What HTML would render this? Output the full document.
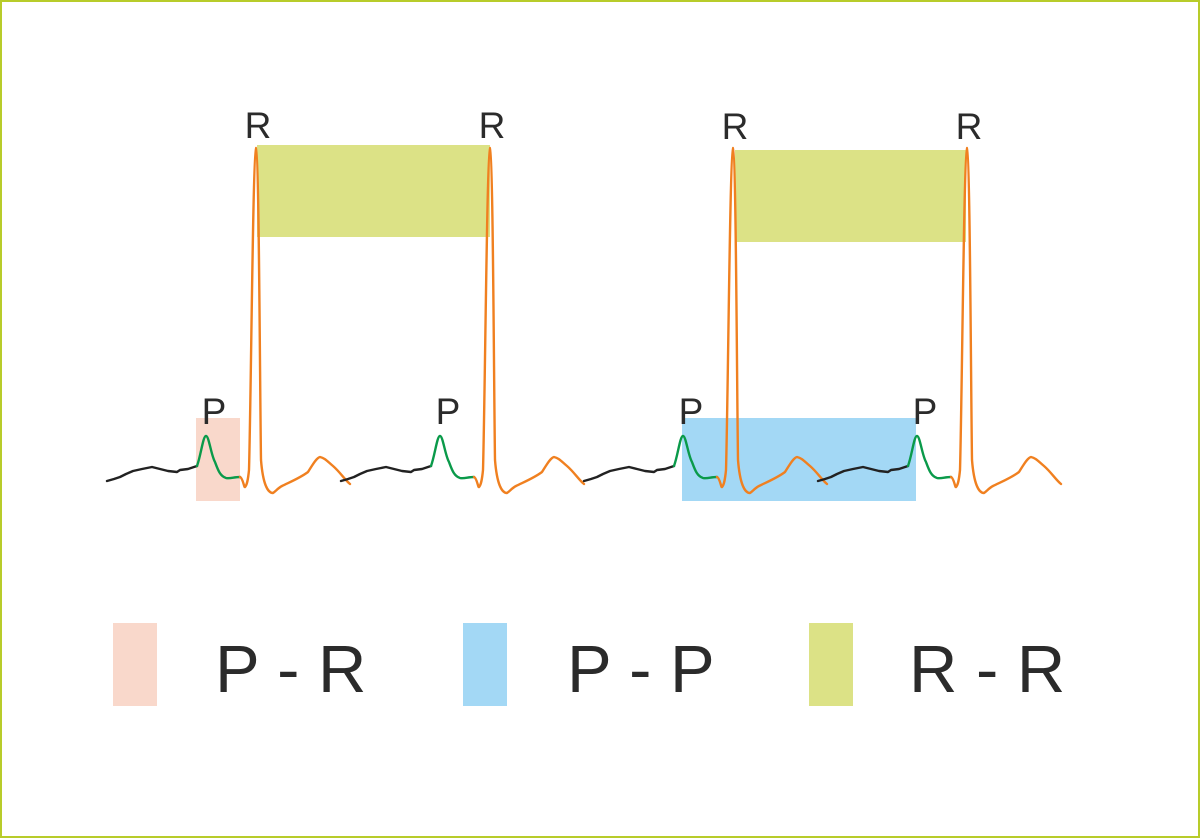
<!DOCTYPE html>
<html><head><style>
html,body{margin:0;padding:0;background:#fff}
svg{display:block}
text{font-family:"Liberation Sans",sans-serif;fill:#2b2b2b}
</style></head><body>
<svg width="1200" height="838" viewBox="0 0 1200 838">
<rect x="1" y="1" width="1198" height="836" fill="#fff" stroke="#b8cc2a" stroke-width="2"/>
<rect x="196" y="418" width="44" height="83" fill="#f9d8cb"/>
<rect x="682" y="418" width="234" height="83" fill="#a3d8f5"/>
<rect x="257" y="145" width="233" height="92" fill="#dce286"/>
<rect x="735" y="150" width="231" height="92" fill="#dce286"/>
<defs>
<g id="beat" fill="none" stroke-width="2.4" stroke-linejoin="round" stroke-linecap="round">
<path d="M107,481 L114,479 L120,477 L126,474 L133,471 L142,469 L152,467 L160,469 L168,471 L177,472 L180,470 L188,469 L197,466" stroke="#222"/>
<path d="M197,466 C201,455 203,436 206,436 C209,436 211,455 215,462 C218,470 220,476 226,478 C230,479 234,477 240,477" stroke="#0a9a4a"/>
<path d="M240,477 C243,478 244,488 245,487 C247,485 248,480 249,470 C251,400 253,150 256,148 C259,150 260,400 261,460 C263,485 268,493 273,493 C276,491 278,488 282,486 C290,482 300,478 308,472 C312,466 316,458 320,457 C325,458 328,462 333,466 C340,472 345,480 350,484" stroke="#f08020"/>
</g>
</defs>
<use href="#beat"/>
<use href="#beat" transform="translate(234,0)"/>
<use href="#beat" transform="translate(477,0)"/>
<use href="#beat" transform="translate(711,0)"/>
<g font-size="37" text-anchor="middle">
<text x="258" y="138">R</text><text x="492" y="138">R</text>
<text x="735" y="139">R</text><text x="969" y="139">R</text>
<text x="214" y="424">P</text><text x="448" y="424">P</text>
<text x="691" y="424">P</text><text x="925" y="424">P</text>
</g>
<rect x="113" y="623" width="44" height="83" fill="#f9d8cb"/>
<rect x="463" y="623" width="44" height="83" fill="#a3d8f5"/>
<rect x="809" y="623" width="44" height="83" fill="#dce286"/>
<g font-size="67">
<text x="215" y="692">P - R</text>
<text x="567" y="692">P - P</text>
<text x="909" y="692">R - R</text>
</g>
</svg>
</body></html>
